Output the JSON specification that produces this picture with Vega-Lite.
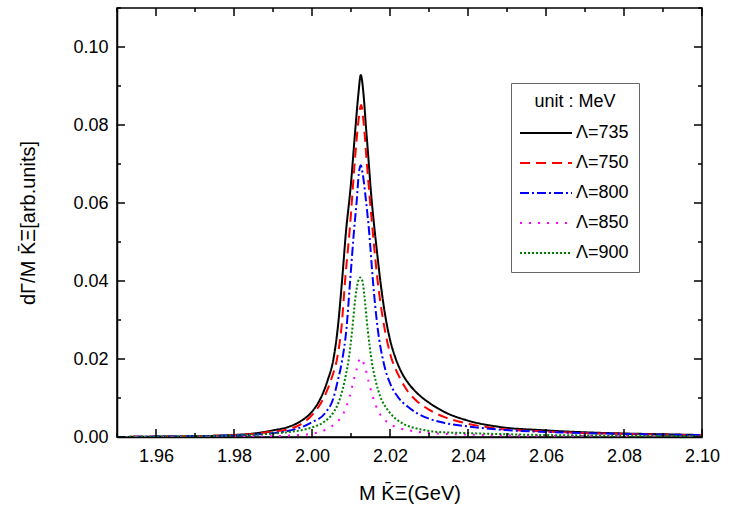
{
  "$schema": "https://vega.github.io/schema/vega-lite/v6.json",
  "width": 585,
  "height": 429,
  "autosize": {"type": "none"},
  "padding": {"left": 117, "top": 8, "right": 28, "bottom": 70},
  "background": "white",
  "config": {
    "view": {"stroke": "black", "strokeWidth": 1.5},
    "font": "Liberation Sans",
    "axis": {"domainColor": "black", "domainWidth": 1.5, "labelColor": "black", "titleColor": "black", "grid": false, "labelFont": "Liberation Sans", "titleFont": "Liberation Sans", "labelFontSize": 18, "titleFontSize": 20, "titleFontWeight": "normal", "labelOverlap": false, "labelFlush": false, "labelBound": false}
  },
  "datasets": {
    "xt": [
      {"t":1.95,"k":"minor"},{"t":1.96,"k":"major"},{"t":1.97,"k":"minor"},{"t":1.98,"k":"major"},
      {"t":1.99,"k":"minor"},{"t":2.0,"k":"major"},{"t":2.01,"k":"minor"},{"t":2.02,"k":"major"},
      {"t":2.03,"k":"minor"},{"t":2.04,"k":"major"},{"t":2.05,"k":"minor"},{"t":2.06,"k":"major"},
      {"t":2.07,"k":"minor"},{"t":2.08,"k":"major"},{"t":2.09,"k":"minor"},{"t":2.1,"k":"major"}
    ],
    "yt": [
      {"t":0.0,"k":"major"},{"t":0.01,"k":"minor"},{"t":0.02,"k":"major"},{"t":0.03,"k":"minor"},
      {"t":0.04,"k":"major"},{"t":0.05,"k":"minor"},{"t":0.06,"k":"major"},{"t":0.07,"k":"minor"},
      {"t":0.08,"k":"major"},{"t":0.09,"k":"minor"},{"t":0.1,"k":"major"},{"t":0.11,"k":"minor"}
    ],
    "curves": [
    {"s":"Λ=735","x":1.95,"y":0.0},
    {"s":"Λ=735","x":1.96,"y":0.0001},
    {"s":"Λ=735","x":1.97,"y":0.0002},
    {"s":"Λ=735","x":1.98,"y":0.0005},
    {"s":"Λ=735","x":1.985,"y":0.0009},
    {"s":"Λ=735","x":1.99,"y":0.0017},
    {"s":"Λ=735","x":1.994,"y":0.0026},
    {"s":"Λ=735","x":1.997,"y":0.004},
    {"s":"Λ=735","x":2.0,"y":0.0065},
    {"s":"Λ=735","x":2.002,"y":0.0095},
    {"s":"Λ=735","x":2.004,"y":0.0145},
    {"s":"Λ=735","x":2.0055,"y":0.02},
    {"s":"Λ=735","x":2.0065,"y":0.027},
    {"s":"Λ=735","x":2.0077,"y":0.04},
    {"s":"Λ=735","x":2.0087,"y":0.0525},
    {"s":"Λ=735","x":2.0099,"y":0.064},
    {"s":"Λ=735","x":2.0112,"y":0.08},
    {"s":"Λ=735","x":2.0119,"y":0.088},
    {"s":"Λ=735","x":2.0125,"y":0.0928},
    {"s":"Λ=735","x":2.0132,"y":0.088},
    {"s":"Λ=735","x":2.0138,"y":0.08},
    {"s":"Λ=735","x":2.0145,"y":0.071},
    {"s":"Λ=735","x":2.0151,"y":0.063},
    {"s":"Λ=735","x":2.0158,"y":0.0555},
    {"s":"Λ=735","x":2.0165,"y":0.049},
    {"s":"Λ=735","x":2.0174,"y":0.041},
    {"s":"Λ=735","x":2.0188,"y":0.031},
    {"s":"Λ=735","x":2.02,"y":0.025},
    {"s":"Λ=735","x":2.0215,"y":0.02},
    {"s":"Λ=735","x":2.023,"y":0.0165},
    {"s":"Λ=735","x":2.025,"y":0.0134},
    {"s":"Λ=735","x":2.027,"y":0.0112},
    {"s":"Λ=735","x":2.03,"y":0.0088},
    {"s":"Λ=735","x":2.034,"y":0.0064},
    {"s":"Λ=735","x":2.04,"y":0.0042},
    {"s":"Λ=735","x":2.048,"y":0.0026},
    {"s":"Λ=735","x":2.06,"y":0.0017},
    {"s":"Λ=735","x":2.07,"y":0.0012},
    {"s":"Λ=735","x":2.08,"y":0.0009},
    {"s":"Λ=735","x":2.09,"y":0.0007},
    {"s":"Λ=735","x":2.1,"y":0.0005},

    {"s":"Λ=750","x":1.95,"y":0.0},
    {"s":"Λ=750","x":1.96,"y":0.0001},
    {"s":"Λ=750","x":1.97,"y":0.0002},
    {"s":"Λ=750","x":1.98,"y":0.0005},
    {"s":"Λ=750","x":1.985,"y":0.0008},
    {"s":"Λ=750","x":1.99,"y":0.0014},
    {"s":"Λ=750","x":1.994,"y":0.002},
    {"s":"Λ=750","x":1.997,"y":0.0032},
    {"s":"Λ=750","x":2.0,"y":0.0056},
    {"s":"Λ=750","x":2.003,"y":0.01},
    {"s":"Λ=750","x":2.005,"y":0.015},
    {"s":"Λ=750","x":2.0065,"y":0.0205},
    {"s":"Λ=750","x":2.0076,"y":0.0285},
    {"s":"Λ=750","x":2.0085,"y":0.0403},
    {"s":"Λ=750","x":2.0097,"y":0.0535},
    {"s":"Λ=750","x":2.011,"y":0.071},
    {"s":"Λ=750","x":2.0119,"y":0.081},
    {"s":"Λ=750","x":2.0126,"y":0.0851},
    {"s":"Λ=750","x":2.0133,"y":0.08},
    {"s":"Λ=750","x":2.014,"y":0.071},
    {"s":"Λ=750","x":2.0155,"y":0.0535},
    {"s":"Λ=750","x":2.0168,"y":0.0403},
    {"s":"Λ=750","x":2.0184,"y":0.029},
    {"s":"Λ=750","x":2.02,"y":0.0215},
    {"s":"Λ=750","x":2.0225,"y":0.0152},
    {"s":"Λ=750","x":2.0245,"y":0.0118},
    {"s":"Λ=750","x":2.027,"y":0.0091},
    {"s":"Λ=750","x":2.03,"y":0.007},
    {"s":"Λ=750","x":2.034,"y":0.0051},
    {"s":"Λ=750","x":2.04,"y":0.0034},
    {"s":"Λ=750","x":2.048,"y":0.0021},
    {"s":"Λ=750","x":2.06,"y":0.0014},
    {"s":"Λ=750","x":2.07,"y":0.001},
    {"s":"Λ=750","x":2.08,"y":0.0008},
    {"s":"Λ=750","x":2.09,"y":0.0006},
    {"s":"Λ=750","x":2.1,"y":0.0005},

    {"s":"Λ=800","x":1.95,"y":0.0},
    {"s":"Λ=800","x":1.96,"y":0.0001},
    {"s":"Λ=800","x":1.97,"y":0.0002},
    {"s":"Λ=800","x":1.98,"y":0.0004},
    {"s":"Λ=800","x":1.985,"y":0.0006},
    {"s":"Λ=800","x":1.99,"y":0.001},
    {"s":"Λ=800","x":1.994,"y":0.0016},
    {"s":"Λ=800","x":1.997,"y":0.0024},
    {"s":"Λ=800","x":2.0,"y":0.0038},
    {"s":"Λ=800","x":2.0035,"y":0.0063},
    {"s":"Λ=800","x":2.0055,"y":0.01},
    {"s":"Λ=800","x":2.0065,"y":0.014},
    {"s":"Λ=800","x":2.0077,"y":0.0195},
    {"s":"Λ=800","x":2.0088,"y":0.0274},
    {"s":"Λ=800","x":2.0098,"y":0.0403},
    {"s":"Λ=800","x":2.0107,"y":0.052},
    {"s":"Λ=800","x":2.0115,"y":0.061},
    {"s":"Λ=800","x":2.012,"y":0.0675},
    {"s":"Λ=800","x":2.0125,"y":0.0697},
    {"s":"Λ=800","x":2.013,"y":0.0675},
    {"s":"Λ=800","x":2.0138,"y":0.061},
    {"s":"Λ=800","x":2.0147,"y":0.052},
    {"s":"Λ=800","x":2.0156,"y":0.0403},
    {"s":"Λ=800","x":2.0168,"y":0.0282},
    {"s":"Λ=800","x":2.0184,"y":0.0189},
    {"s":"Λ=800","x":2.02,"y":0.0138},
    {"s":"Λ=800","x":2.022,"y":0.0103},
    {"s":"Λ=800","x":2.0245,"y":0.0078},
    {"s":"Λ=800","x":2.0268,"y":0.0062},
    {"s":"Λ=800","x":2.03,"y":0.0047},
    {"s":"Λ=800","x":2.034,"y":0.0036},
    {"s":"Λ=800","x":2.04,"y":0.0027},
    {"s":"Λ=800","x":2.048,"y":0.0019},
    {"s":"Λ=800","x":2.06,"y":0.0013},
    {"s":"Λ=800","x":2.07,"y":0.001},
    {"s":"Λ=800","x":2.08,"y":0.0008},
    {"s":"Λ=800","x":2.09,"y":0.0006},
    {"s":"Λ=800","x":2.1,"y":0.0005},

    {"s":"Λ=850","x":1.95,"y":0.0},
    {"s":"Λ=850","x":1.97,"y":0.0},
    {"s":"Λ=850","x":1.98,"y":0.0001},
    {"s":"Λ=850","x":1.99,"y":0.0002},
    {"s":"Λ=850","x":1.995,"y":0.0004},
    {"s":"Λ=850","x":1.999,"y":0.0007},
    {"s":"Λ=850","x":2.002,"y":0.0013},
    {"s":"Λ=850","x":2.004,"y":0.0021},
    {"s":"Λ=850","x":2.006,"y":0.0035},
    {"s":"Λ=850","x":2.0081,"y":0.0061},
    {"s":"Λ=850","x":2.0097,"y":0.0105},
    {"s":"Λ=850","x":2.0107,"y":0.0146},
    {"s":"Λ=850","x":2.0114,"y":0.0172},
    {"s":"Λ=850","x":2.012,"y":0.0195},
    {"s":"Λ=850","x":2.0124,"y":0.0202},
    {"s":"Λ=850","x":2.013,"y":0.0195},
    {"s":"Λ=850","x":2.0137,"y":0.0175},
    {"s":"Λ=850","x":2.0145,"y":0.0143},
    {"s":"Λ=850","x":2.0156,"y":0.0103},
    {"s":"Λ=850","x":2.0171,"y":0.0064},
    {"s":"Λ=850","x":2.0185,"y":0.0046},
    {"s":"Λ=850","x":2.0197,"y":0.0035},
    {"s":"Λ=850","x":2.022,"y":0.0024},
    {"s":"Λ=850","x":2.0244,"y":0.0018},
    {"s":"Λ=850","x":2.028,"y":0.0012},
    {"s":"Λ=850","x":2.032,"y":0.0009},
    {"s":"Λ=850","x":2.04,"y":0.0006},
    {"s":"Λ=850","x":2.05,"y":0.0004},
    {"s":"Λ=850","x":2.06,"y":0.0003},
    {"s":"Λ=850","x":2.08,"y":0.0002},
    {"s":"Λ=850","x":2.1,"y":0.0001},

    {"s":"Λ=900","x":1.95,"y":0.0},
    {"s":"Λ=900","x":1.96,"y":0.0001},
    {"s":"Λ=900","x":1.97,"y":0.0002},
    {"s":"Λ=900","x":1.98,"y":0.0004},
    {"s":"Λ=900","x":1.985,"y":0.0006},
    {"s":"Λ=900","x":1.99,"y":0.0009},
    {"s":"Λ=900","x":1.995,"y":0.0014},
    {"s":"Λ=900","x":1.998,"y":0.0019},
    {"s":"Λ=900","x":2.001,"y":0.0028},
    {"s":"Λ=900","x":2.003,"y":0.0038},
    {"s":"Λ=900","x":2.0055,"y":0.0063},
    {"s":"Λ=900","x":2.0068,"y":0.0088},
    {"s":"Λ=900","x":2.0078,"y":0.012},
    {"s":"Λ=900","x":2.0087,"y":0.016},
    {"s":"Λ=900","x":2.0094,"y":0.0198},
    {"s":"Λ=900","x":2.0103,"y":0.0274},
    {"s":"Λ=900","x":2.0111,"y":0.0355},
    {"s":"Λ=900","x":2.0118,"y":0.0398},
    {"s":"Λ=900","x":2.0124,"y":0.0409},
    {"s":"Λ=900","x":2.013,"y":0.0398},
    {"s":"Λ=900","x":2.0134,"y":0.0365},
    {"s":"Λ=900","x":2.0143,"y":0.0274},
    {"s":"Λ=900","x":2.0154,"y":0.0189},
    {"s":"Λ=900","x":2.0165,"y":0.0137},
    {"s":"Λ=900","x":2.0175,"y":0.0104},
    {"s":"Λ=900","x":2.019,"y":0.0075},
    {"s":"Λ=900","x":2.0205,"y":0.0056},
    {"s":"Λ=900","x":2.0225,"y":0.0039},
    {"s":"Λ=900","x":2.025,"y":0.0027},
    {"s":"Λ=900","x":2.0286,"y":0.0018},
    {"s":"Λ=900","x":2.032,"y":0.0013},
    {"s":"Λ=900","x":2.04,"y":0.001},
    {"s":"Λ=900","x":2.05,"y":0.0007},
    {"s":"Λ=900","x":2.06,"y":0.0005},
    {"s":"Λ=900","x":2.07,"y":0.0004},
    {"s":"Λ=900","x":2.08,"y":0.0003},
    {"s":"Λ=900","x":2.09,"y":0.0003},
    {"s":"Λ=900","x":2.1,"y":0.0002}
  ]},
  "resolve": {"axis": {"x": "independent", "y": "independent"}},
  "layer": [
    {
      "data": {"name": "curves"},
      "mark": {"type": "line", "strokeWidth": 2, "interpolate": "monotone", "clip": true},
      "encoding": {
        "x": {"field": "x", "type": "quantitative",
          "scale": {"domain": [1.95, 2.1], "nice": false, "zero": false},
          "axis": {"orient": "bottom", "title": "M K̄Ξ(GeV)", "titlePadding": 18,
            "values": [1.96,1.98,2.0,2.02,2.04,2.06,2.08,2.1],
            "format": ".2f", "ticks": false, "labelPadding": 10}},
        "y": {"field": "y", "type": "quantitative",
          "scale": {"domain": [0, 0.11], "nice": false, "zero": false},
          "axis": {"orient": "left", "title": "dΓ/M K̄Ξ[arb.units]", "titlePadding": 34,
            "values": [0,0.02,0.04,0.06,0.08,0.1],
            "format": ".2f", "ticks": false, "labelPadding": 9}},
        "color": {"field": "s", "type": "nominal",
          "scale": {"domain": ["Λ=735","Λ=750","Λ=800","Λ=850","Λ=900"], "range": ["#000000","#ff0000","#0000ff","#ff00ff","#008000"]},
          "legend": {"title": "unit : MeV", "orient": "none", "legendX": 394, "legendY": 75,
            "symbolType": "M-2,0H2", "symbolSize": 676, "symbolStrokeWidth": 2, "symbolOffset": 11,
            "labelFontSize": 18, "titleFontSize": 18, "titleFontWeight": "normal", "labelColor": "black", "titleColor": "black",
            "strokeColor": "#666666", "fillColor": "white", "padding": 10, "titleAnchor": "middle", "labelOffset": 16,
            "rowPadding": 7, "titlePadding": 8}},
        "strokeDash": {"field": "s", "type": "nominal",
          "scale": {"domain": ["Λ=735","Λ=750","Λ=800","Λ=850","Λ=900"], "range": [[1,0],[10,6],[9,3,2,3],[2,7],[2,2]]}}
      }
    },
    {
      "data": {"name": "xt"},
      "transform": [{"filter": "datum.k == 'major'"}],
      "mark": {"type": "rule", "color": "black", "strokeWidth": 1.5, "y2Offset": -8},
      "encoding": {"x": {"field": "t", "type": "quantitative", "axis": null}, "y": {"datum": 0, "axis": null}, "y2": {"datum": 0}}
    },
    {
      "data": {"name": "xt"},
      "transform": [{"filter": "datum.k == 'minor'"}],
      "mark": {"type": "rule", "color": "black", "strokeWidth": 1.5, "y2Offset": -4},
      "encoding": {"x": {"field": "t", "type": "quantitative", "axis": null}, "y": {"datum": 0, "axis": null}, "y2": {"datum": 0}}
    },
    {
      "data": {"name": "xt"},
      "transform": [{"filter": "datum.k == 'major'"}],
      "mark": {"type": "rule", "color": "black", "strokeWidth": 1.5, "y2Offset": 8},
      "encoding": {"x": {"field": "t", "type": "quantitative", "axis": null}, "y": {"datum": 0.11, "axis": null}, "y2": {"datum": 0.11}}
    },
    {
      "data": {"name": "xt"},
      "transform": [{"filter": "datum.k == 'minor'"}],
      "mark": {"type": "rule", "color": "black", "strokeWidth": 1.5, "y2Offset": 4},
      "encoding": {"x": {"field": "t", "type": "quantitative", "axis": null}, "y": {"datum": 0.11, "axis": null}, "y2": {"datum": 0.11}}
    },
    {
      "data": {"name": "yt"},
      "transform": [{"filter": "datum.k == 'major'"}],
      "mark": {"type": "rule", "color": "black", "strokeWidth": 1.5, "x2Offset": 8},
      "encoding": {"y": {"field": "t", "type": "quantitative", "axis": null}, "x": {"datum": 1.95, "axis": null}, "x2": {"datum": 1.95}}
    },
    {
      "data": {"name": "yt"},
      "transform": [{"filter": "datum.k == 'minor'"}],
      "mark": {"type": "rule", "color": "black", "strokeWidth": 1.5, "x2Offset": 4},
      "encoding": {"y": {"field": "t", "type": "quantitative", "axis": null}, "x": {"datum": 1.95, "axis": null}, "x2": {"datum": 1.95}}
    },
    {
      "data": {"name": "yt"},
      "transform": [{"filter": "datum.k == 'major'"}],
      "mark": {"type": "rule", "color": "black", "strokeWidth": 1.5, "x2Offset": -8},
      "encoding": {"y": {"field": "t", "type": "quantitative", "axis": null}, "x": {"datum": 2.1, "axis": null}, "x2": {"datum": 2.1}}
    },
    {
      "data": {"name": "yt"},
      "transform": [{"filter": "datum.k == 'minor'"}],
      "mark": {"type": "rule", "color": "black", "strokeWidth": 1.5, "x2Offset": -4},
      "encoding": {"y": {"field": "t", "type": "quantitative", "axis": null}, "x": {"datum": 2.1, "axis": null}, "x2": {"datum": 2.1}}
    }
  ]
}
